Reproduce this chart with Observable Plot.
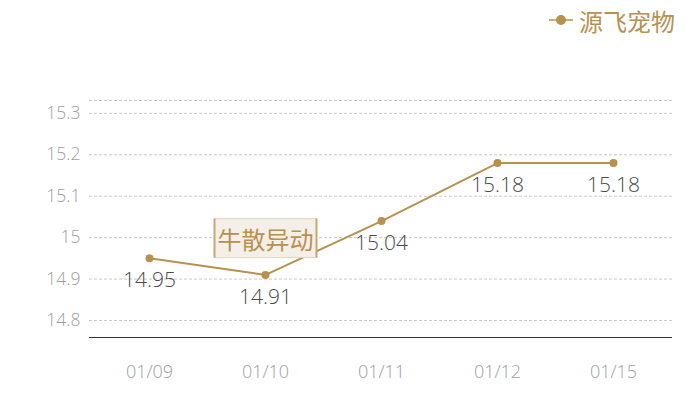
<!DOCTYPE html>
<html>
<head>
<meta charset="utf-8">
<script src="https://cdn.jsdelivr.net/npm/d3@7"></script>
<script src="https://cdn.jsdelivr.net/npm/@observablehq/plot@0.6"></script>
<style>
  body { margin: 0; background: #fff; font-family: "Open Sans", "Noto Sans CJK SC", sans-serif; }
  #wrap { width: 700px; height: 400px; position: relative; }
  #legend { height: 40px; display: flex; justify-content: flex-end; align-items: center; padding-right: 25px; color: #b8914f; font-family: "Noto Sans CJK SC", sans-serif; font-size: 24px; font-weight: 400; }
  #legend svg { margin-right: 5px; }
</style>
</head>
<body>
<div id="wrap">
  <div id="legend"></div>
  <div id="chart"></div>
</div>
<script>
const seriesName = "源飞宠物";
const dates = ["01/09", "01/10", "01/11", "01/12", "01/15"];
const prices = [14.95, 14.91, 15.04, 15.18, 15.18];
const yTicks = [14.8, 14.9, 15.0, 15.1, 15.2, 15.3];
const yDomain = [14.759, 15.331];
const annotDates = ["01/10"];
const annotLabels = ["牛散异动"];

const gold = "#b8914f";
const data = dates.map((d, i) => ({date: d, value: prices[i]}));
const annots = annotDates.map((d, i) => ({date: d, value: prices[dates.indexOf(d)], label: annotLabels[i]}));

// legend
const leg = document.getElementById("legend");
leg.innerHTML = `<svg width="26" height="12"><line x1="1" x2="25" y1="6" y2="6" stroke="${gold}" stroke-width="1.5"/><circle cx="13" cy="6" r="5" fill="${gold}"/></svg><span>${seriesName}</span>`;

const chart = Plot.plot({
  width: 700,
  height: 360,
  marginTop: 60,
  marginBottom: 63,
  marginLeft: 89,
  marginRight: 28,
  style: {fontFamily: "'Open Sans', 'Noto Sans CJK SC', sans-serif", background: "transparent", fontWeight: 300},
  x: {type: "band", domain: dates, padding: 0, label: null},
  y: {domain: yDomain, label: null},
  marks: [
    Plot.gridY(yTicks, {stroke: "#c8c8c8", strokeOpacity: 1, strokeDasharray: "3,2"}),
    Plot.ruleY([yDomain[1]], {stroke: "#c8c8c8", strokeDasharray: "3,2"}),
    Plot.axisY(yTicks, {tickSize: 0, tickPadding: 9, tickFormat: d => String(d), fontSize: 17.5, fill: "#9e9e9e", label: null}),
    Plot.axisX({tickSize: 0, tickPadding: 28, fontSize: 18, fill: "#9e9e9e", label: null}),
    Plot.ruleY([yDomain[0]], {stroke: "#333", strokeWidth: 1}),
    Plot.line(data, {x: "date", y: "value", stroke: gold, strokeWidth: 2}),
    Plot.dot(data, {x: "date", y: "value", fill: gold, r: 4}),
    Plot.text(data, {x: "date", y: "value", text: d => d.value.toFixed(2), dy: 22, fontSize: 21, fill: "#4a4a4a"}),
    Plot.text(annots, {x: "date", y: "value", text: "label", dy: -34, fontSize: 24, fill: "#b8914f", fontWeight: 400, className: "annot", fontFamily: "Noto Sans CJK SC"})
  ]
});
document.getElementById("chart").appendChild(chart);

// background box behind annotation text
chart.querySelectorAll(".annot text").forEach(t => {
  const b = t.getBBox();
  const tr = t.getAttribute("transform");
  const g = t.parentNode;
  const padX = 3, padY = 2;
  const ns = "http://www.w3.org/2000/svg";
  const grp = document.createElementNS(ns, "g");
  if (tr) grp.setAttribute("transform", tr);
  const r = document.createElementNS(ns, "rect");
  r.setAttribute("x", b.x - padX); r.setAttribute("y", b.y - padY);
  r.setAttribute("width", b.width + 2 * padX); r.setAttribute("height", b.height + 2 * padY);
  r.setAttribute("fill", "#f4efe9"); r.setAttribute("stroke", "#e3d4bd"); r.setAttribute("stroke-width", 1);
  grp.appendChild(r);
  [b.x - padX, b.x + b.width + padX].forEach(x => {
    const l = document.createElementNS(ns, "line");
    l.setAttribute("x1", x); l.setAttribute("x2", x);
    l.setAttribute("y1", b.y - padY); l.setAttribute("y2", b.y + b.height + padY);
    l.setAttribute("stroke", "#c9a66e"); l.setAttribute("stroke-width", 2);
    grp.appendChild(l);
  });
  g.insertBefore(grp, t);
});
</script>
</body>
</html>
